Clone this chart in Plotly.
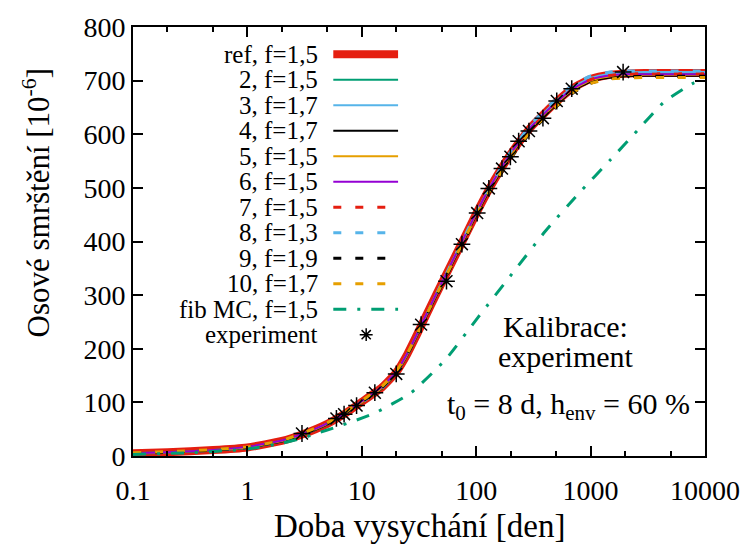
import plotly.graph_objects as go

# ---------------- data ----------------
T = [0.1, 0.2, 0.5, 1, 2, 3, 5, 7, 10, 15, 20, 25, 30, 40, 50, 70, 100, 130, 200,
     300, 500, 700, 1000, 1500, 2000, 3000, 5000, 10000]
ref = [5, 7, 11, 16, 28, 40, 60, 78, 101, 128, 156, 190, 224, 280, 322, 385, 452, 498, 563,
       613, 660, 686, 703, 711, 713, 714, 714, 714]
v2 = [4, 6, 10, 15, 27, 39, 59, 77, 100, 126, 154, 188, 222, 278, 321, 384, 451, 497, 562,
      611, 658, 684, 701, 709, 711, 712, 712, 712]
v3 = [5, 7, 11, 16, 28, 40, 61, 79, 102, 129, 157, 191, 225, 281, 324, 387, 454, 500, 565,
      615, 662, 688, 705, 713, 715, 716, 716, 716]
v4 = [5, 7, 11, 16, 27, 39, 59, 77, 100, 126, 154, 188, 222, 277, 319, 382, 449, 494, 559,
      608, 655, 681, 698, 706, 708, 709, 709, 709]
v5 = [5, 7, 11, 16, 28, 40, 60, 78, 100, 127, 155, 189, 223, 279, 321, 384, 451, 497, 561,
      611, 657, 683, 700, 708, 710, 711, 711, 711]
v6 = [5, 7, 11, 17, 29, 41, 61, 79, 102, 129, 157, 191, 225, 281, 323, 386, 453, 499, 564,
      613, 659, 685, 702, 710, 712, 712, 712, 712]
v7 = [5, 7, 11, 16, 28, 40, 60, 78, 101, 128, 156, 190, 224, 280, 322, 385, 452, 498, 563,
      612, 659, 685, 702, 710, 712, 713, 713, 713]
v8 = [5, 7, 11, 16, 28, 40, 60, 78, 100, 127, 155, 189, 223, 279, 322, 386, 454, 501, 567,
      618, 666, 692, 709, 716, 718, 718, 718, 718]
v9 = [5, 7, 11, 16, 28, 40, 60, 78, 101, 128, 156, 189, 222, 277, 318, 380, 446, 491, 555,
      604, 651, 677, 695, 704, 707, 708, 708, 708]
v10 = [6, 8, 12, 17, 29, 42, 62, 80, 103, 130, 158, 191, 224, 279, 320, 382, 448, 493, 557,
       606, 652, 678, 695, 703, 705, 706, 706, 706]

T_fib = [0.1, 0.3, 1, 2, 3, 4, 6, 9, 13, 18, 27, 54, 105, 206, 405, 790, 1500, 2566, 4375,
         8000, 10000]
fib = [3, 6, 13, 24, 33, 42, 54, 67, 80, 96, 118, 180, 260, 340, 420, 490, 553, 607, 660,
       696, 702]

T_exp = [3, 6, 7, 9, 13, 20, 33, 55, 75, 102, 129, 168, 199, 235, 289, 383, 506, 684, 1924]
exp_y = [42, 70, 78, 94, 118, 153, 245, 326, 395, 453, 499, 536, 558, 587, 606, 630, 662,
         685, 716]

labels = ["ref, f=1,5", "2, f=1,5", "3, f=1,7", "4, f=1,7", "5, f=1,5", "6, f=1,5",
          "7, f=1,5", "8, f=1,3", "9, f=1,9", "10, f=1,7", "fib MC, f=1,5", "experiment"]
x_tickvals = [0.1, 1, 10, 100, 1000, 10000]
x_ticktext = ["0.1", "1", "10", "100", "1000", "10000"]
y_tickvals = [0, 100, 200, 300, 400, 500, 600, 700, 800]

# ---------------- styles ----------------
RED = "#e51e10"
GREEN = "#009e73"
BLUE = "#56b4e9"
ORANGE = "#e69f00"
PURPLE = "#9400d3"
BLACK = "#000000"
DASH = "8px,14px"
DASHDOT = "13px,11px,3px,11px"
FONT = "Liberation Serif, Times New Roman, serif"

series = [
    (ref, RED, 8, "solid"),
    (v2, GREEN, 2, "solid"),
    (v3, BLUE, 2, "solid"),
    (v4, BLACK, 2, "solid"),
    (v5, ORANGE, 2, "solid"),
    (v6, PURPLE, 2, "solid"),
    (v7, RED, 3, DASH),
    (v8, BLUE, 3, DASH),
    (v9, BLACK, 3, DASH),
    (v10, ORANGE, 3, DASH),
]

fig = go.Figure()
for (ys, col, w, dash), name in zip(series, labels):
    fig.add_trace(go.Scatter(x=T, y=ys, mode="lines", name=name,
                             line=dict(color=col, width=w, dash=dash, shape="spline",
                                       smoothing=0.5),
                             showlegend=False))
fig.add_trace(go.Scatter(x=T_fib, y=fib, mode="lines", name=labels[10],
                         line=dict(color=GREEN, width=3, dash=DASHDOT, shape="spline",
                                   smoothing=0.5),
                         showlegend=False))
fig.add_trace(go.Scatter(x=T_exp, y=exp_y, mode="markers", name=labels[11],
                         marker=dict(symbol="asterisk-open", size=14, color=BLACK,
                                     line=dict(color=BLACK, width=1.5)),
                         showlegend=False))

# ---------------- layout geometry (pixels) ----------------
W, H = 752, 549
L, R, TOP, BOT = 133, 707, 20, 456
pw, ph = R - L, BOT - TOP


def px(xp):
    return (xp - L) / pw


def py(yp):
    return (BOT - yp) / ph


# ---------------- manual gnuplot-style key ----------------
styles_key = [(c, w, d) for (_, c, w, d) in series] + [(GREEN, 3, DASHDOT)]
row0, dy = 47.8, 25.9
shapes = []
annotations = []
for i, lab in enumerate(labels):
    yrow = row0 + i * dy
    annotations.append(dict(x=px(321), y=py(yrow), xref="paper", yref="paper",
                            text=lab, showarrow=False, xanchor="right",
                            yanchor="middle", font=dict(family=FONT, size=25,
                                                        color="black")))
    if i < len(styles_key):
        c, w, d = styles_key[i]
        shapes.append(dict(type="line", xref="paper", yref="paper",
                           x0=px(334), x1=px(399), y0=py(yrow), y1=py(yrow),
                           line=dict(color=c, width=w, dash=d)))
    else:
        cx, cy, r = 367, yrow, 6.5
        path = (f"M {px(cx - r)} {py(cy)} L {px(cx + r)} {py(cy)} "
                f"M {px(cx)} {py(cy - r)} L {px(cx)} {py(cy + r)} "
                f"M {px(cx - r * 0.71)} {py(cy - r * 0.71)} L {px(cx + r * 0.71)} {py(cy + r * 0.71)} "
                f"M {px(cx - r * 0.71)} {py(cy + r * 0.71)} L {px(cx + r * 0.71)} {py(cy - r * 0.71)}")
        shapes.append(dict(type="path", xref="paper", yref="paper", path=path,
                           line=dict(color=BLACK, width=1.5)))

# ---------------- text annotations ----------------
annotations += [
    dict(x=px(567), y=py(324), xref="paper", yref="paper", text="Kalibrace:",
         showarrow=False, xanchor="center", yanchor="middle",
         font=dict(family=FONT, size=30, color="black")),
    dict(x=px(568), y=py(355), xref="paper", yref="paper", text="experiment",
         showarrow=False, xanchor="center", yanchor="middle",
         font=dict(family=FONT, size=30, color="black")),
    dict(x=px(694), y=py(405), xref="paper", yref="paper",
         text="t<sub>0</sub> = 8 d, h<sub>env</sub> = 60 %",
         showarrow=False, xanchor="right", yanchor="middle",
         font=dict(family=FONT, size=30, color="black")),
    dict(x=px(36), y=py(198), xref="paper", yref="paper",
         text="Osové smrštění [10<sup>-6</sup>]", textangle=-90,
         showarrow=False, xanchor="center", yanchor="middle",
         font=dict(family=FONT, size=31, color="black")),
    dict(x=px(420), y=py(527), xref="paper", yref="paper",
         text="Doba vysychání [den]",
         showarrow=False, xanchor="center", yanchor="middle",
         font=dict(family=FONT, size=33, color="black")),
]

fig.update_layout(
    width=W, height=H,
    margin=dict(l=L, r=W - R, t=TOP, b=H - BOT, pad=0),
    paper_bgcolor="white", plot_bgcolor="white",
    font=dict(family=FONT, size=28, color="black"),
    shapes=shapes, annotations=annotations,
    showlegend=False,
)
fig.update_xaxes(type="log", range=[-1, 4], tickvals=x_tickvals, ticktext=x_ticktext,
                 ticks="inside", ticklen=10, tickwidth=1.5, tickcolor="black",
                 showline=True, linewidth=2, linecolor="black", mirror="allticks",
                 showgrid=False, zeroline=False, ticklabelstandoff=8,
                 tickfont=dict(family=FONT, size=28, color="black"),
                 minor=dict(ticks="inside", ticklen=5, tickwidth=1.5, tickcolor="black",
                            showgrid=False))
fig.update_yaxes(range=[0, 800], tickvals=y_tickvals,
                 ticks="inside", ticklen=10, tickwidth=1.5, tickcolor="black",
                 showline=True, linewidth=2, linecolor="black", mirror="allticks",
                 showgrid=False, zeroline=False,
                 tickfont=dict(family=FONT, size=28, color="black"))

fig.write_html("out.html")
